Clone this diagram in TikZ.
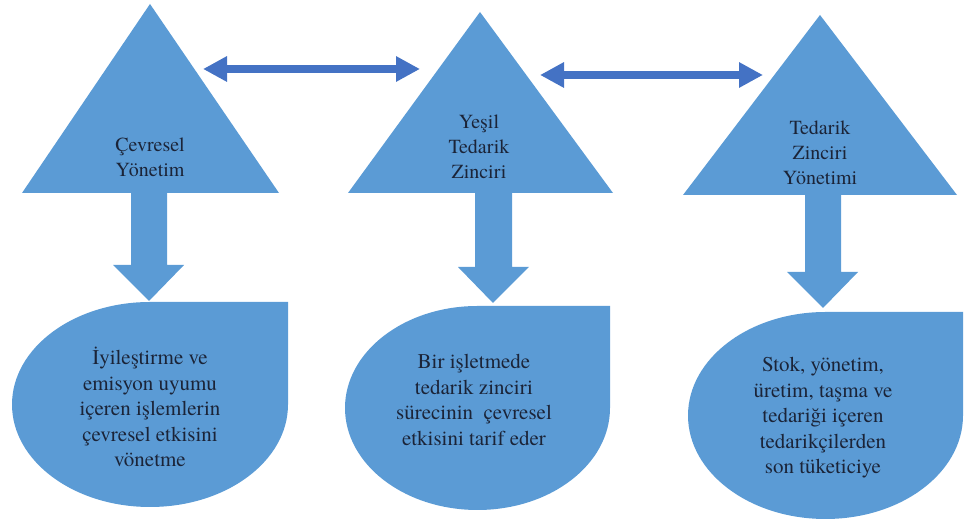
\documentclass[tikz,border=0pt]{standalone}
\usepackage{fontspec}
\setmainfont{texgyretermes-regular.otf}[BoldFont=texgyretermes-bold.otf]
\usetikzlibrary{arrows.meta}
\definecolor{shapeblue}{HTML}{5B9BD5}
\definecolor{linkblue}{HTML}{4472C4}
\definecolor{textnavy}{HTML}{1B2438}
\tikzset{
  shapefill/.style={fill=shapeblue},
  link/.style={draw=linkblue, line width=8pt,
    {Triangle[width=24pt,length=24pt]}-{Triangle[width=24pt,length=24pt]}},
  toptext/.style={align=center, text=textnavy, inner sep=0pt,
    font=\fontsize{20}{25}\selectfont},
  bodytext/.style={align=center, text=textnavy, inner sep=0pt,
    font=\fontsize{21}{25.5}\selectfont}
}

\begin{document}
\begin{tikzpicture}[x=1pt, y=1pt]
    \useasboundingbox (0,0) rectangle (964,521);
    % triangles
    \fill [shapefill] (22,328) -- (150,517) -- (279,328) -- cycle;
    \fill [shapefill] (348,328) -- (480,509) -- (613,328) -- cycle;
    \fill [shapefill] (683,326) -- (820,506) -- (957,326) -- cycle;
    % down arrows
    \fill [shapefill] (131,328) -- (131,256) -- (113,256) -- (149,220)
        -- (184,256) -- (167,256) -- (167,328) -- cycle;
    \fill [shapefill] (475,328) -- (475,254) -- (458,254) -- (493,218)
        -- (529,254) -- (512,254) -- (512,328) -- cycle;
    \fill [shapefill] (805,326) -- (805,249) -- (787,249) -- (823,213)
        -- (858,249) -- (841,249) -- (841,326) -- cycle;
    % drop shapes
    \fill [shapefill] (150,219) -- (288,219) -- (288,116.5)
        arc [start angle=0, end angle=-270, x radius=138, y radius=102.5] -- cycle;
    \fill [shapefill] (477.5,215) -- (610,215) -- (610,113)
        arc [start angle=0, end angle=-270, x radius=132.5, y radius=102] -- cycle;
    \fill [shapefill] (825.5,209) -- (963,209) -- (963,105.5)
        arc [start angle=0, end angle=-270, x radius=137.5, y radius=103.5] -- cycle;
    % labels
    \node [toptext] (cevre) at (150,364) {Çevresel\\Yönetim};
    \node [toptext] (yesil) at (479,374) {Yeşil\\Tedarik\\Zinciri};
    \node [toptext] (tzy) at (820,368) {Tedarik\\Zinciri\\Yönetimi};
    \node [bodytext] (cevreB) at (150,114) {İyileştirme ve\\emisyon uyumu\\içeren işlemlerin\\çevresel etkisini\\vönetme};
    \node [bodytext] (yesilB) at (474,121) {Bir işletmede\\tedarik zinciri\\sürecinin\ \ çevresel\\etkisini tarif eder};
    \node [bodytext] (tzyB) at (823,103) {Stok, yönetim,\\üretim, taşma ve\\tedariği içeren\\tedarikçilerden\\son tüketiciye};
    % two-way links
    \coordinate (cevreR) at (203,452);
    \coordinate (yesilL) at (420,452);
    \coordinate (yesilR) at (540,446);
    \coordinate (tzyL) at (763,446);
    \draw [link] (cevreR) -- (yesilL);
    \draw [link] (yesilR) -- (tzyL);
\end{tikzpicture}
\end{document}
